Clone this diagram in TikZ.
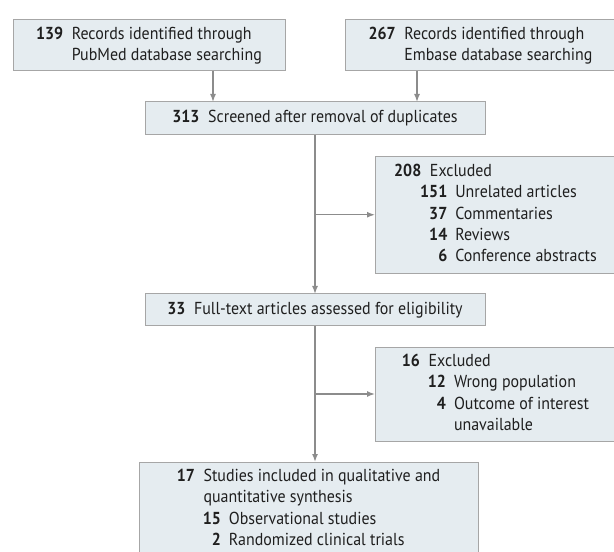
\documentclass[tikz,border=0pt]{standalone}
\usepackage{fontspec}
\setmainfont{PT Sans}[FakeStretch=0.92]
\usepackage{xcolor}
\usetikzlibrary{arrows.meta,calc}
\definecolor{box-fill}{HTML}{E5ECF0}
\definecolor{box-edge}{HTML}{A6A6A6}
\definecolor{flow-gray}{HTML}{8C8C8C}
\definecolor{jet}{HTML}{1F1F1F}
\newcommand{\subrow}[2]{\hspace*{13pt}\llap{\textbf{#1}}\hspace{6pt}#2}
\newcommand{\controw}{\hspace*{19pt}}
\newenvironment{rows}{\begin{tabular}{@{}r@{\hspace{6.5pt}}l@{}}}{\end{tabular}}

\begin{document}
\begin{tikzpicture}[x=0.75pt, y=-0.75pt,
    box/.style={draw=box-edge, fill=box-fill, line width=0.75pt, inner sep=0pt, outer sep=0pt,
      text=jet, font=\fontsize{13}{16.1}\selectfont},
    flow/.style={draw=flow-gray, line width=1.1pt, -{Latex[length=6pt,width=4.5pt]}}]
  \useasboundingbox (0,0) rectangle (614,552);
  \node[box, minimum width=204pt, minimum height=38.25pt] (pubmed) at (149,45.5)
    {\begin{rows}\textbf{139} & Records identified through\\ & PubMed database searching\end{rows}};
  \node[box, minimum width=202.5pt, minimum height=38.25pt] (embase) at (480.5,45.5)
    {\begin{rows}\textbf{267} & Records identified through\\ & Embase database searching\end{rows}};
  \node[box, minimum width=255pt, minimum height=24.75pt] (screen) at (315,118.5)
    {\begin{rows}\textbf{313} & Screened after removal of duplicates\end{rows}};
  \node[box, minimum width=180.75pt, minimum height=87.4pt] (excl1) at (495.5,214.75)
    {\begin{rows}\textbf{208} & Excluded\\
      & \subrow{151}{Unrelated articles}\\
      & \subrow{37}{Commentaries}\\
      & \subrow{14}{Reviews}\\
      & \subrow{6}{Conference abstracts}\end{rows}};
  \node[box, minimum width=255pt, minimum height=24pt] (fulltext) at (315,310)
    {\begin{rows}\textbf{33} & Full-text articles assessed for eligibility\end{rows}};
  \node[box, minimum width=180.75pt, minimum height=70.5pt] (excl2) at (495.5,394)
    {\begin{rows}\textbf{16} & Excluded\\
      & \subrow{12}{Wrong population}\\
      & \subrow{4}{Outcome of interest}\\
      & \controw unavailable\end{rows}};
  \node[box, minimum width=254.25pt, minimum height=70.5pt] (final) at (308.5,509)
    {\begin{rows}\textbf{17} & Studies included in qualitative and\\
      & quantitative synthesis\\
      & \subrow{15}{Observational studies}\\
      & \subrow{2}{Randomized clinical trials}\end{rows}};
  \coordinate (in1) at ($(screen.north west)!0.2!(screen.north east)$);
  \coordinate (in2) at ($(screen.north west)!0.8!(screen.north east)$);
  \draw[flow] (pubmed.south -| in1) -- (in1);
  \draw[flow] (embase.south -| in2) -- (in2);
  \draw[flow] (screen) -- (fulltext);
  \draw[flow] (excl1.west -| screen.south) -- (excl1.west);
  \draw[flow] (fulltext.south) -- (fulltext.south |- final.north);
  \draw[flow] (excl2.west -| fulltext.south) -- (excl2.west);
\end{tikzpicture}
\end{document}
